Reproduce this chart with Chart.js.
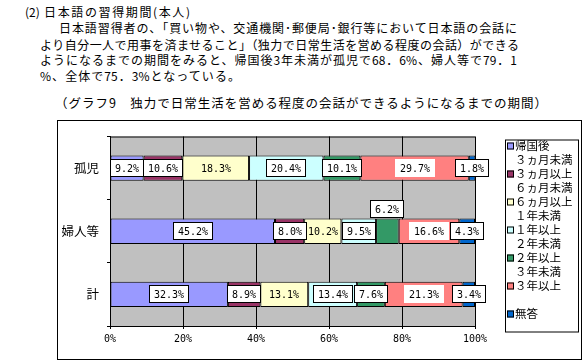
<!DOCTYPE html>
<html lang="ja">
<head>
<meta charset="utf-8">
<script src="https://cdn.jsdelivr.net/npm/chart.js@4"></script>
<style>
  body { margin: 0; background: #fff; width: 587px; height: 363px; overflow: hidden; position: relative;
         font-family: 'Noto Sans CJK JP', sans-serif; color: #000; }
  .line { position: absolute; font-size: 12px; line-height: 16px; white-space: nowrap;
          text-align: justify; text-align-last: justify; }
  #frame { position: absolute; left: 57px; top: 120px; width: 523px; height: 238px; border: 1px solid #000; }
  #wrap { position: absolute; left: 58px; top: 121px; width: 523px; height: 238px; }
</style>
</head>
<body>
<div class="line" style="left:25px; top:4px; width:165px;">(2) 日本語の習得期間(本人)</div>
<div class="line" style="left:59px; top:20px; width:458px;">日本語習得者の、「買い物や、交通機関･郵便局･銀行等において日本語の会話に</div>
<div class="line" style="left:40px; top:37px; width:479px;">より自分一人で用事を済ませること」（独力で日常生活を営める程度の会話）ができる</div>
<div class="line" style="left:40px; top:52px; width:477px;">ようになるまでの期間をみると、帰国後3年未満が孤児で68．6%、婦人等で79．1</div>
<div class="line" style="left:40px; top:68px; width:200px;">%、全体で75．3%となっている。</div>
<div class="line" style="left:55px; top:95px; width:492px; font-size:12.5px;">（グラフ9　独力で日常生活を営める程度の会話ができるようになるまでの期間）</div>
<div id="frame"></div>
<div id="wrap"><canvas id="chart"></canvas></div>
<script>
const categories = ['孤児', '婦人等', '計'];
const seriesNames = [
  ['帰国後', '３ヵ月未満'],
  ['３ヵ月以上', '６ヵ月未満'],
  ['６ヵ月以上', '１年未満'],
  ['１年以上', '２年未満'],
  ['２年以上', '３年未満'],
  ['３年以上'],
  ['無答']
];
const under3m = [9.2, 45.2, 32.3];
const m3to6 = [10.6, 8.0, 8.9];
const m6to1y = [18.3, 10.2, 13.1];
const y1to2 = [20.4, 9.5, 13.4];
const y2to3 = [10.1, 6.2, 7.6];
const over3y = [29.7, 16.6, 21.3];
const noAnswer = [1.8, 4.3, 3.4];
const xTicks = [0, 20, 40, 60, 80, 100];

const seriesValues = [under3m, m3to6, m6to1y, y1to2, y2to3, over3y, noAnswer];
const colors = ['#9999FF', '#993366', '#FFFFCC', '#CCFFFF', '#339966', '#FF8080', '#0066CC'];
// label look per series: box = white + border, fill = white only, none = text only
const labelStyles = ['box', 'box', 'none', 'box', 'box', 'fill', 'box'];

const monoFont = "'DejaVu Sans Mono', monospace";
const cjkFont = "'Noto Sans CJK JP', sans-serif";
Chart.defaults.font.family = cjkFont;
Chart.defaults.color = '#000';

// grey plot background and top border
const plotBg = {
  id: 'plotBg',
  beforeDraw(chart) {
    const { ctx, chartArea: a } = chart;
    ctx.save();
    ctx.fillStyle = '#C0C0C0';
    ctx.fillRect(a.left, a.top, a.right - a.left, a.bottom - a.top);
    ctx.restore();
  },
  afterDraw(chart) {
    const { ctx, chartArea: a } = chart;
    ctx.save();
    ctx.strokeStyle = '#000';
    ctx.lineWidth = 1;
    ctx.beginPath();
    ctx.moveTo(a.left, a.top + 0.5);
    ctx.lineTo(a.right, a.top + 0.5);
    ctx.stroke();
    ctx.restore();
  }
};

// value labels on the segments
const valueLabels = {
  id: 'valueLabels',
  afterDatasetsDraw(chart) {
    const ctx = chart.ctx;
    ctx.save();
    ctx.font = '10px ' + monoFont;
    ctx.textAlign = 'center';
    ctx.textBaseline = 'middle';
    const last = chart.data.datasets.length - 1;
    chart.data.datasets.forEach((ds, di) => {
      const meta = chart.getDatasetMeta(di);
      meta.data.forEach((bar, i) => {
        const text = ds.data[i].toFixed(1) + '%';
        const tw = ctx.measureText(text).width;
        const segW = Math.abs(bar.x - bar.base);
        let cx = Math.round((bar.x + bar.base) / 2);
        let cy = Math.round(bar.y);
        if (segW < tw && di !== last) cy -= 22;
        const w = Math.round(tw + 10), h = 18;
        const x0 = cx - Math.round(w / 2), y0 = cy - h / 2;
        const style = labelStyles[di];
        if (style !== 'none') {
          ctx.fillStyle = '#fff';
          ctx.fillRect(x0, y0, w, h);
        }
        if (style === 'box') {
          ctx.strokeStyle = '#000';
          ctx.lineWidth = 1;
          ctx.strokeRect(x0 + 0.5, y0 + 0.5, w - 1, h - 1);
        }
        ctx.fillStyle = '#000';
        ctx.fillText(text, cx, cy + 1);
      });
    });
    ctx.restore();
  }
};

// legend box on the right
const sideLegend = {
  id: 'sideLegend',
  afterDraw(chart) {
    const { ctx, chartArea: a } = chart;
    const left = a.right + 30, top = a.top + 3, w = 73, h = 192;
    ctx.save();
    ctx.strokeStyle = '#000';
    ctx.lineWidth = 1;
    ctx.strokeRect(left + 0.5, top + 0.5, w, h);
    ctx.font = '11.5px ' + cjkFont;
    ctx.textBaseline = 'middle';
    ctx.textAlign = 'left';
    chart.data.datasets.forEach((ds, di) => {
      const y = top + 6 + di * 28;
      ctx.fillStyle = ds.backgroundColor;
      ctx.fillRect(left + 2, y - 3, 7, 7);
      ctx.strokeRect(left + 2.5, y - 2.5, 6, 6);
      ctx.fillStyle = '#000';
      ds.label.forEach((line, li) => {
        ctx.fillText(line, left + 10, y + li * 14);
      });
    });
    ctx.restore();
  }
};

new Chart(document.getElementById('chart'), {
  type: 'bar',
  data: {
    labels: categories,
    datasets: seriesValues.map((vals, i) => ({
      label: seriesNames[i],
      data: vals,
      backgroundColor: colors[i],
      borderColor: '#000',
      borderWidth: 1,
      borderSkipped: false,
      categoryPercentage: 1,
      barPercentage: 0.4
    }))
  },
  options: {
    indexAxis: 'y',
    animation: false,
    responsive: true,
    maintainAspectRatio: false,
    layout: { padding: { top: 8, right: 106, left: 0, bottom: 0 } },
    plugins: { legend: { display: false }, tooltip: { enabled: false } },
    scales: {
      x: {
        stacked: true,
        min: 0,
        max: 100,
        afterBuildTicks: (scale) => { scale.ticks = xTicks.map(v => ({ value: v })); },
        afterFit: (scale) => { scale.height = 33; },
        ticks: {
          callback: (v) => v + '%',
          font: { family: monoFont, size: 10 },
          color: '#000',
          padding: 4,
          maxRotation: 0
        },
        grid: { color: '#000', lineWidth: 1, tickLength: 3 },
        border: { display: true, color: '#000' }
      },
      y: {
        stacked: true,
        afterFit: (scale) => { scale.width = 52; },
        ticks: { font: { family: cjkFont, size: 12.5 }, color: '#000', padding: 8 },
        grid: { offset: true, drawOnChartArea: false, drawTicks: true, tickLength: 3, color: '#000' },
        border: { display: true, color: '#000' }
      }
    }
  },
  plugins: [plotBg, valueLabels, sideLegend]
});
</script>
</body>
</html>
